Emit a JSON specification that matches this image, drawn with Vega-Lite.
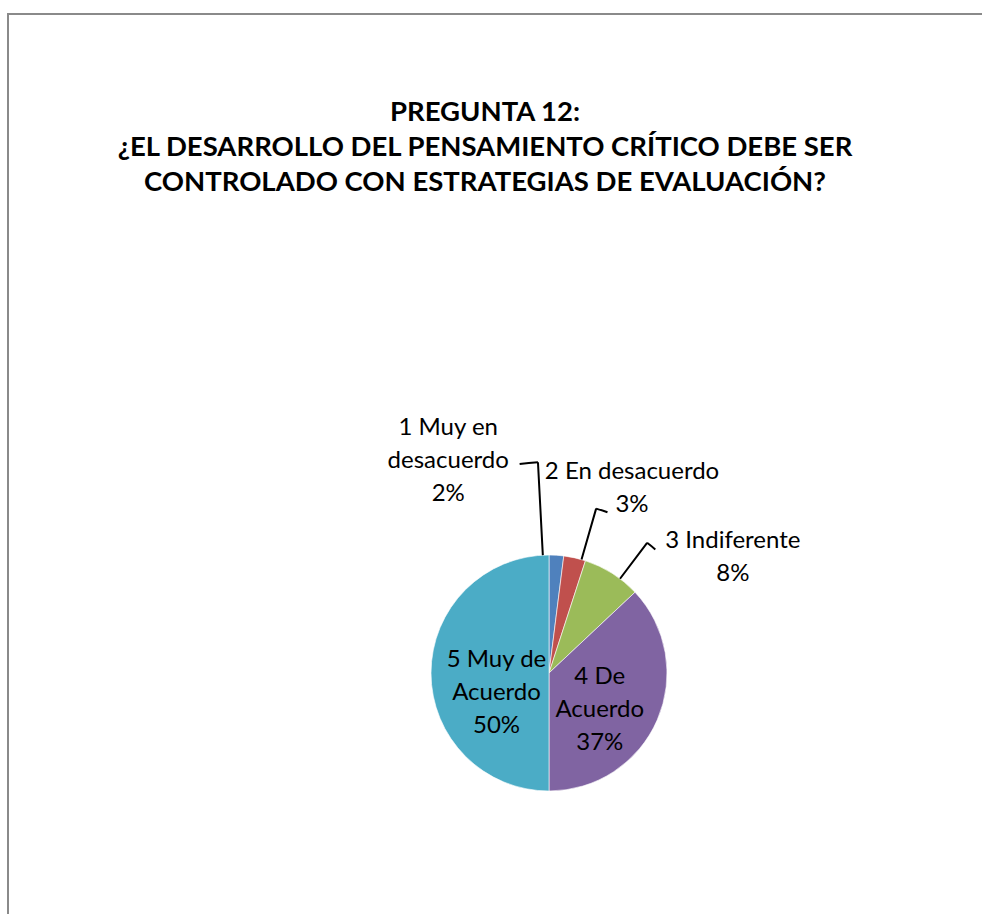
{
  "$schema": "https://vega.github.io/schema/vega-lite/v6.json",
  "autosize": "none",
  "padding": {"left": 8, "top": 14, "right": 0, "bottom": 0},
  "width": 1082,
  "height": 1318,
  "background": "white",
  "view": {"stroke": "#8a8a8a", "strokeWidth": 2, "fill": "white"},
  "config": {"view": {"stroke": "#8a8a8a", "strokeWidth": 2}, "font": "Lato"},
  "title": {
    "text": ["PREGUNTA 12:", "¿EL DESARROLLO DEL PENSAMIENTO CRÍTICO DEBE SER", "CONTROLADO CON ESTRATEGIAS DE EVALUACIÓN?"],
    "font": "Lato",
    "fontSize": 27.5,
    "fontWeight": "bold",
    "color": "#000000",
    "lineHeight": 35,
    "anchor": "middle",
    "frame": "group",
    "offset": -182,
    "dx": -64
  },
  "data": {
    "values": [
      {"categoria": "1 Muy en desacuerdo", "valor": 2, "etiqueta": "1 Muy en\ndesacuerdo\n2%"},
      {"categoria": "2 En desacuerdo", "valor": 3, "etiqueta": "2 En desacuerdo\n3%"},
      {"categoria": "3 Indiferente", "valor": 8, "etiqueta": "3 Indiferente\n8%"},
      {"categoria": "4 De Acuerdo", "valor": 37, "etiqueta": "4 De\nAcuerdo\n37%"},
      {"categoria": "5 Muy de Acuerdo", "valor": 50, "etiqueta": "5 Muy de\nAcuerdo\n50%"}
    ]
  },
  "layer": [
    {
      "mark": {"type": "arc", "outerRadius": 118, "stroke": "#ffffff", "strokeWidth": 0.6},
      "encoding": {
        "theta": {"field": "valor", "type": "quantitative", "stack": true, "scale": {"domain": [0, 100]}},
        "color": {
          "field": "categoria", "type": "nominal", "legend": null,
          "scale": {
            "domain": ["1 Muy en desacuerdo", "2 En desacuerdo", "3 Indiferente", "4 De Acuerdo", "5 Muy de Acuerdo"],
            "range": ["#4F81BD", "#C0504D", "#9BBB59", "#8064A2", "#4BACC6"]
          }
        },
        "order": {"field": "categoria", "type": "ordinal", "sort": "ascending"}
      }
    },
    {
      "transform": [
        {"stack": "valor", "groupby": [], "sort": [{"field": "categoria", "order": "ascending"}], "as": ["v0", "v1"]},
        {"fold": ["v0", "v1"], "as": ["lado", "borde"]},
        {"aggregate": [{"op": "mean", "field": "borde", "as": "mid"}], "groupby": ["categoria", "etiqueta"]},
        {"filter": {"field": "categoria", "equal": "1 Muy en desacuerdo"}}
      ],
      "layer": [
        {
          "mark": {"type": "arc", "radius": 211, "radius2": 118, "thetaOffset": -0.1152, "theta2Offset": -0.1152, "stroke": "#000000", "strokeWidth": 2, "fillOpacity": 0},
          "encoding": {
            "theta": {"field": "mid", "type": "quantitative", "stack": false, "scale": {"domain": [0, 100]}},
            "theta2": {"field": "mid"}
          }
        },
        {
          "mark": {"type": "arc", "radius": 211, "radius2": 211, "thetaOffset": -0.2025, "theta2Offset": -0.1152, "stroke": "#000000", "strokeWidth": 2, "fillOpacity": 0},
          "encoding": {
            "theta": {"field": "mid", "type": "quantitative", "stack": false, "scale": {"domain": [0, 100]}},
            "theta2": {"field": "mid"}
          }
        },
        {
          "mark": {"type": "text", "radius": 235, "thetaOffset": -0.506, "dy": -33, "fontSize": 24, "font": "Lato", "align": "center", "baseline": "middle", "lineBreak": "\n", "lineHeight": 33, "color": "#000000"},
          "encoding": {
            "theta": {"field": "mid", "type": "quantitative", "stack": false, "scale": {"domain": [0, 100]}},
            "text": {"field": "etiqueta"}
          }
        }
      ]
    },
    {
      "transform": [
        {"stack": "valor", "groupby": [], "sort": [{"field": "categoria", "order": "ascending"}], "as": ["v0", "v1"]},
        {"fold": ["v0", "v1"], "as": ["lado", "borde"]},
        {"aggregate": [{"op": "mean", "field": "borde", "as": "mid"}], "groupby": ["categoria", "etiqueta"]},
        {"filter": {"field": "categoria", "equal": "2 En desacuerdo"}}
      ],
      "layer": [
        {
          "mark": {"type": "arc", "radius": 171, "radius2": 118, "thetaOffset": 0.0593, "theta2Offset": 0.0593, "stroke": "#000000", "strokeWidth": 2, "fillOpacity": 0},
          "encoding": {
            "theta": {"field": "mid", "type": "quantitative", "stack": false, "scale": {"domain": [0, 100]}},
            "theta2": {"field": "mid"}
          }
        },
        {
          "mark": {"type": "arc", "radius": 171, "radius2": 171, "thetaOffset": 0.0593, "theta2Offset": 0.1291, "stroke": "#000000", "strokeWidth": 2, "fillOpacity": 0},
          "encoding": {
            "theta": {"field": "mid", "type": "quantitative", "stack": false, "scale": {"domain": [0, 100]}},
            "theta2": {"field": "mid"}
          }
        },
        {
          "mark": {"type": "text", "radius": 202.5, "thetaOffset": 0.2025, "dy": -16.5, "fontSize": 24, "font": "Lato", "align": "center", "baseline": "middle", "lineBreak": "\n", "lineHeight": 33, "color": "#000000"},
          "encoding": {
            "theta": {"field": "mid", "type": "quantitative", "stack": false, "scale": {"domain": [0, 100]}},
            "text": {"field": "etiqueta"}
          }
        }
      ]
    },
    {
      "transform": [
        {"stack": "valor", "groupby": [], "sort": [{"field": "categoria", "order": "ascending"}], "as": ["v0", "v1"]},
        {"fold": ["v0", "v1"], "as": ["lado", "borde"]},
        {"aggregate": [{"op": "mean", "field": "borde", "as": "mid"}], "groupby": ["categoria", "etiqueta"]},
        {"filter": {"field": "categoria", "equal": "3 Indiferente"}}
      ],
      "layer": [
        {
          "mark": {"type": "arc", "radius": 163, "radius2": 118, "thetaOffset": 0.0803, "theta2Offset": 0.0803, "stroke": "#000000", "strokeWidth": 2, "fillOpacity": 0},
          "encoding": {
            "theta": {"field": "mid", "type": "quantitative", "stack": false, "scale": {"domain": [0, 100]}},
            "theta2": {"field": "mid"}
          }
        },
        {
          "mark": {"type": "arc", "radius": 163, "radius2": 163, "thetaOffset": 0.0803, "theta2Offset": 0.145, "stroke": "#000000", "strokeWidth": 2, "fillOpacity": 0},
          "encoding": {
            "theta": {"field": "mid", "type": "quantitative", "stack": false, "scale": {"domain": [0, 100]}},
            "theta2": {"field": "mid"}
          }
        },
        {
          "mark": {"type": "text", "radius": 217, "thetaOffset": 0.445, "dy": -16.5, "fontSize": 24, "font": "Lato", "align": "center", "baseline": "middle", "lineBreak": "\n", "lineHeight": 33, "color": "#000000"},
          "encoding": {
            "theta": {"field": "mid", "type": "quantitative", "stack": false, "scale": {"domain": [0, 100]}},
            "text": {"field": "etiqueta"}
          }
        }
      ]
    },
    {
      "transform": [
        {"stack": "valor", "groupby": [], "sort": [{"field": "categoria", "order": "ascending"}], "as": ["v0", "v1"]},
        {"fold": ["v0", "v1"], "as": ["lado", "borde"]},
        {"aggregate": [{"op": "mean", "field": "borde", "as": "mid"}], "groupby": ["categoria", "etiqueta"]},
        {"filter": {"field": "categoria", "equal": "4 De Acuerdo"}}
      ],
      "mark": {"type": "text", "radius": 63, "thetaOffset": 0.225, "dy": -33, "fontSize": 24, "font": "Lato", "align": "center", "baseline": "middle", "lineBreak": "\n", "lineHeight": 33, "color": "#000000"},
      "encoding": {
        "theta": {"field": "mid", "type": "quantitative", "stack": false, "scale": {"domain": [0, 100]}},
        "text": {"field": "etiqueta"}
      }
    },
    {
      "transform": [
        {"stack": "valor", "groupby": [], "sort": [{"field": "categoria", "order": "ascending"}], "as": ["v0", "v1"]},
        {"fold": ["v0", "v1"], "as": ["lado", "borde"]},
        {"aggregate": [{"op": "mean", "field": "borde", "as": "mid"}], "groupby": ["categoria", "etiqueta"]},
        {"filter": {"field": "categoria", "equal": "5 Muy de Acuerdo"}}
      ],
      "mark": {"type": "text", "radius": 56, "thetaOffset": -0.356, "dy": -33, "fontSize": 24, "font": "Lato", "align": "center", "baseline": "middle", "lineBreak": "\n", "lineHeight": 33, "color": "#000000"},
      "encoding": {
        "theta": {"field": "mid", "type": "quantitative", "stack": false, "scale": {"domain": [0, 100]}},
        "text": {"field": "etiqueta"}
      }
    }
  ]
}
